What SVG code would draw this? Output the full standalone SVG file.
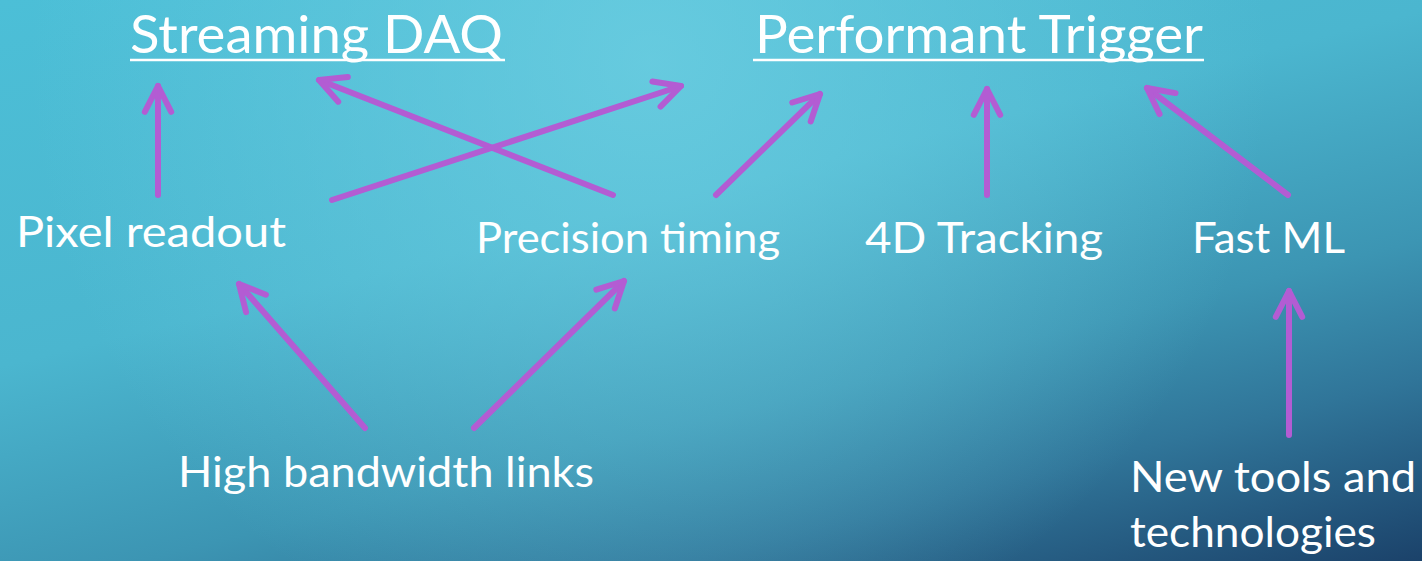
<svg xmlns="http://www.w3.org/2000/svg" width="1422" height="561" viewBox="0 0 1422 561">
<style>
.t{fill:#ffffff;font-family:Lato,"Noto Sans","DejaVu Sans",sans-serif;font-size:42px;font-weight:400}
.h{font-size:53px}
.ul{stroke:#ffffff;stroke-width:2.5}
.a{fill:none;stroke:#b35cd3;stroke-width:6;stroke-linecap:round;marker-end:url(#ah)}
</style>
<defs>
<linearGradient id="bg" gradientUnits="userSpaceOnUse" x1="0" y1="0" x2="215.6" y2="862.6">
<stop offset="0" stop-color="#4cbfd7"/>
<stop offset="0.4" stop-color="#4bb6cf"/>
<stop offset="0.65" stop-color="#3c95b3"/>
<stop offset="0.8" stop-color="#307599"/>
<stop offset="1" stop-color="#1b426a"/>
</linearGradient>
<radialGradient id="hl" gradientUnits="userSpaceOnUse" cx="650" cy="60" r="620">
<stop offset="0" stop-color="#6fd0e3" stop-opacity="0.75"/>
<stop offset="0.6" stop-color="#6fd0e3" stop-opacity="0.3"/>
<stop offset="1" stop-color="#6fd0e3" stop-opacity="0"/>
</radialGradient>
<marker id="ah" markerUnits="strokeWidth" viewBox="-6 -4 8 8" refX="0" refY="0" markerWidth="8" markerHeight="8" orient="auto" overflow="visible">
<path d="M-4.3,-2.2 L0,0 L-4.3,2.2" fill="none" stroke="#b35cd3" stroke-width="1" stroke-linecap="round" stroke-linejoin="round"/>
</marker>
</defs>
<rect width="1422" height="561" fill="url(#bg)"/>
<rect width="1422" height="561" fill="url(#hl)"/>
<g id="connectors">
<path class="a" d="M158,195 L158,86"/>
<path class="a" d="M613,195 L319,80"/>
<path class="a" d="M332,200 L681,86"/>
<path class="a" d="M716,195 L820,94"/>
<path class="a" d="M987,195 L987,89"/>
<path class="a" d="M1288,195 L1147,88"/>
<path class="a" d="M365,428 L239,284"/>
<path class="a" d="M474,428 L624,281"/>
<path class="a" d="M1289,435 L1289,291"/>
</g>
<g id="streaming-daq">
<text class="t h" x="130" y="53" textLength="373" lengthAdjust="spacingAndGlyphs">Streaming DAQ</text>
<line class="ul" x1="130" y1="60" x2="505" y2="60"/>
</g>
<g id="performant-trigger">
<text class="t h" x="755" y="53" textLength="448" lengthAdjust="spacingAndGlyphs">Performant Trigger</text>
<line class="ul" x1="753" y1="60" x2="1204" y2="60"/>
</g>
<g id="pixel-readout"><text class="t" x="16" y="247" textLength="270" lengthAdjust="spacingAndGlyphs">Pixel readout</text></g>
<g id="precision-timing"><text class="t" x="476" y="253" textLength="304" lengthAdjust="spacingAndGlyphs">Precision timing</text></g>
<g id="tracking-4d"><text class="t" x="865" y="253" textLength="238" lengthAdjust="spacingAndGlyphs">4D Tracking</text></g>
<g id="fast-ml"><text class="t" x="1192" y="253" textLength="153" lengthAdjust="spacingAndGlyphs">Fast ML</text></g>
<g id="high-bandwidth-links"><text class="t" x="178" y="487" textLength="416" lengthAdjust="spacingAndGlyphs">High bandwidth links</text></g>
<g id="new-tools">
<text class="t" x="1130" y="492" textLength="286" lengthAdjust="spacingAndGlyphs">New tools and</text>
<text class="t" x="1130" y="547" textLength="246" lengthAdjust="spacingAndGlyphs">technologies</text>
</g>
</svg>
